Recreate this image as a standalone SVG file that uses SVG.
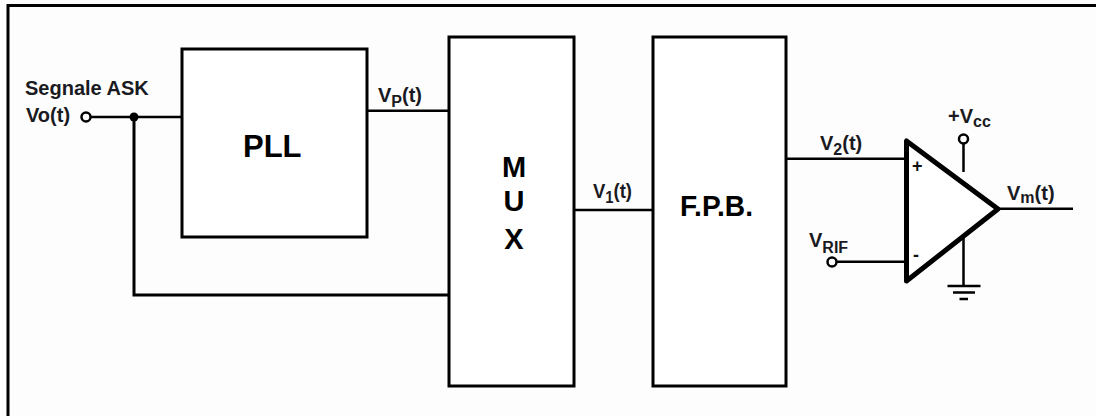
<svg xmlns="http://www.w3.org/2000/svg" width="1096" height="416" viewBox="0 0 1096 416">
<style>
.b{fill:#fff;stroke:#000;stroke-width:3}
.w{fill:none;stroke:#000;stroke-width:3}
.t{fill:none;stroke:#000;stroke-width:2.500}
.o{fill:#fff;stroke:#000;stroke-width:2.500}
text{font-family:"Liberation Sans",Arial,sans-serif;fill:#1a1a22;font-weight:bold}
.l{font-size:20px}.h{font-size:31px;fill:#000}.m{font-size:29px;fill:#000}
.s{font-size:18px;fill:#111}.u{font-size:16px}
</style>
<rect width="1096" height="416" fill="#fdfdfd"/>
<path id="frame" fill="none" stroke="#000" stroke-width="3" d="M8 416V5.500H1096"/>
<g id="connectors">
<path class="t" d="M91 117H182M367 110.800H449M574 210H653M785 158.800H906M837 261.700H906M998 208.700H1073M963.500 143V172M963.500 236V286"/>
<path class="w" d="M134 117V295H449"/>
<path class="t" d="M947.500 286H980.500M953 292.500H975M959.500 299H968"/>
<circle cx="134" cy="117" r="4.500" fill="#000"/>
</g>
<g id="pll"><rect class="b" x="182" y="49" width="185" height="188"/><text class="h" x="243" y="157">PLL</text></g>
<g id="mux"><rect class="b" x="449" y="37" width="125" height="349"/><text class="m" text-anchor="middle"><tspan x="514" y="177">M</tspan><tspan x="514" y="211">U</tspan><tspan x="514" y="249">X</tspan></text></g>
<g id="fpb"><rect class="b" x="653" y="37" width="133" height="349"/><text class="m" x="680" y="216" textLength="73" lengthAdjust="spacingAndGlyphs">F.P.B.</text></g>
<g id="opamp"><path fill="#fff" stroke="#000" stroke-width="5" stroke-linejoin="round" d="M906.500 141V281L998 209Z"/>
<text class="s" x="912" y="172">+</text><text class="s" x="913" y="261">-</text></g>
<g id="input"><circle class="o" cx="86" cy="117" r="4.500"/><text class="l" x="25" y="95">Segnale ASK</text><text class="l" x="26" y="122">Vo(t)</text></g>
<g id="vp"><text class="l" x="378" y="102">V<tspan class="u" dy="5">P</tspan><tspan dy="-5">(t)</tspan></text></g>
<g id="v1"><text class="l" x="593" y="198" textLength="39" lengthAdjust="spacingAndGlyphs">V<tspan class="u" dy="5">1</tspan><tspan dy="-5">(t)</tspan></text></g>
<g id="v2"><text class="l" x="820" y="150">V<tspan class="u" dy="5">2</tspan><tspan dy="-5">(t)</tspan></text></g>
<g id="vcc"><circle class="o" cx="963.500" cy="139" r="4.500"/><text class="l" x="948" y="123">+V<tspan class="u" dy="4" font-size="15">cc</tspan></text></g>
<g id="vrif"><circle class="o" cx="832" cy="262" r="4.500"/><text class="l" x="809" y="247">V<tspan class="u" dy="6">RIF</tspan></text></g>
<g id="vm"><text class="l" x="1007" y="200">V<tspan class="u" dy="3">m</tspan><tspan dy="-3">(t)</tspan></text></g>
</svg>
